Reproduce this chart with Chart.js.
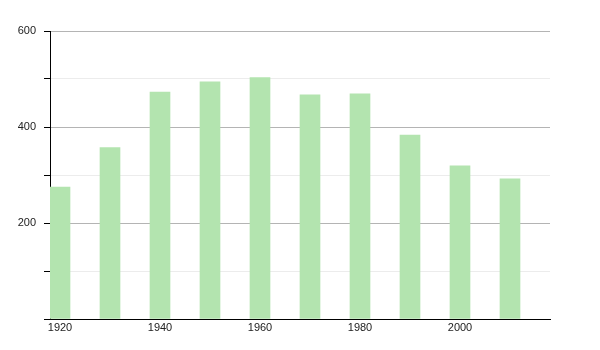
<!DOCTYPE html>
<html>
<head>
<meta charset="utf-8">
<script src="https://cdn.jsdelivr.net/npm/chart.js@4/dist/chart.umd.min.js"></script>
<style>
  html, body { margin: 0; padding: 0; background: #fff; }
  #wrap { width: 600px; height: 350px; }
</style>
</head>
<body>
<div id="wrap"><canvas id="chart" width="600" height="350"></canvas></div>
<script>
// data
var years = [1920, 1930, 1940, 1950, 1960, 1970, 1980, 1990, 2000, 2010]
var values = [275, 357, 473, 494, 503, 467, 469, 383, 319, 292]
var xTicks = [1920, 1940, 1960, 1980, 2000]
var yLabels = [200, 400, 600]

var points = years.map((y, i) => ({ x: y, y: values[i] }))

var ctx = document.getElementById('chart').getContext('2d')
var chart = new Chart(ctx, {
  type: 'bar',
  data: {
    datasets: [{
      data: points,
      backgroundColor: 'rgb(179, 228, 175)',
      borderWidth: 0,
      barThickness: 20
    }]
  },
  options: {
    responsive: false,
    animation: false,
    layout: { padding: { left: 0, right: 50, top: 31, bottom: 0 } },
    plugins: { legend: { display: false }, tooltip: { enabled: false } },
    scales: {
      x: {
        type: 'linear',
        offset: false,
        min: 1918,
        max: 2018,
        afterBuildTicks: (scale) => { scale.ticks = xTicks.map(v => ({ value: v })) },
        afterFit: (scale) => { scale.height = 31 },
        grid: { display: false, drawTicks: false },
        border: { display: true, color: '#000', width: 1 },
        ticks: {
          color: '#222',
          font: { family: 'Liberation Sans', size: 11 },
          padding: 2,
          maxRotation: 0,
          autoSkip: false,
          callback: (v) => String(v)
        }
      },
      y: {
        min: 0,
        max: 600,
        afterFit: (scale) => { scale.width = 50 },
        border: { display: true, color: '#000', width: 1 },
        grid: {
          color: (c) => (c.tick && c.tick.value % 200 === 0) ? (c.tick.value === 0 ? 'rgba(0,0,0,0)' : '#b4b4b4') : '#ececec',
          tickColor: '#000',
          tickLength: 6,
          drawTicks: true
        },
        ticks: {
          stepSize: 100,
          color: '#222',
          font: { family: 'Liberation Sans', size: 11 },
          padding: 8,
          callback: (v) => yLabels.includes(v) ? String(v) : ''
        }
      }
    }
  }
})
</script>
</body>
</html>
